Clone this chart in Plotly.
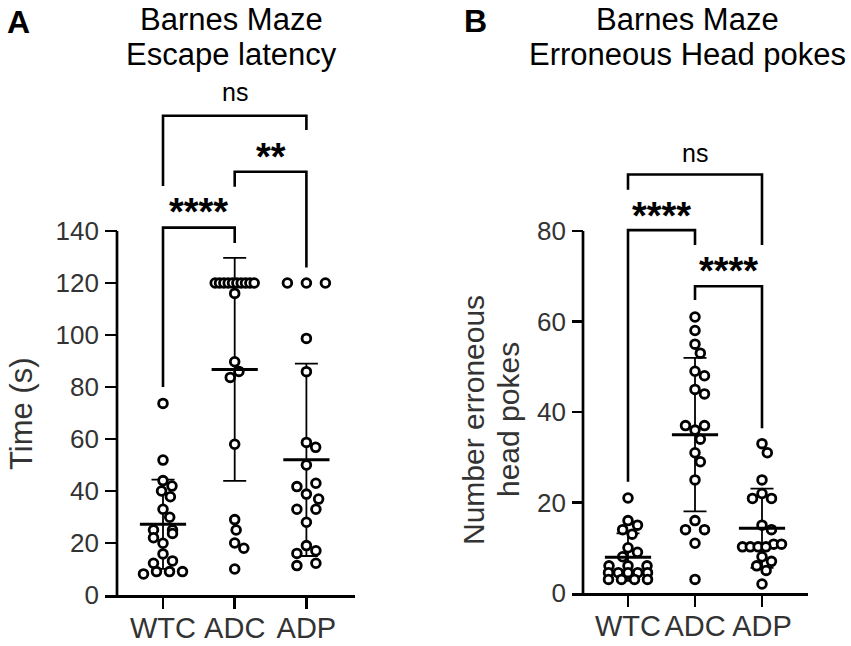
import math
import numpy as np
import plotly.graph_objects as go

# ---------------- data ----------------
categories = ["WTC", "ADC", "ADP"]

latency_wtc = [73.7, 51.9, 44, 41.9, 40, 37.8, 33, 29.9, 25, 25, 23.7, 22, 19.9, 15.8, 13.1, 12.2, 8.1, 9, 9, 9]
latency_adc = [120, 120, 120, 120, 120, 120, 120, 120, 120, 120, 116, 89.7, 86, 83.7, 58, 29, 25, 20, 18, 10]
latency_adp = [120, 120, 120, 98.7, 85.9, 58.7, 56.8, 50, 43, 41.7, 38.8, 36.9, 33, 33, 28, 19, 17, 16, 12.2, 11.3]

pokes_wtc = [21, 16, 15, 14, 13, 10, 9, 8, 6, 6, 6, 4.5, 4.5, 4.5, 4.5, 4.5, 3, 3, 3, 3]
pokes_adc = [61, 58, 55, 53, 49, 48, 45, 44, 37, 37, 36, 34, 31, 29, 25, 16, 14, 14, 11, 3]
pokes_adp = [33, 31, 25, 22, 20.9, 20.9, 15, 14, 10.8, 10.2, 10.2, 10.2, 10.2, 10.8, 8, 7, 6, 5, 2]

latency_ticks = [0, 20, 40, 60, 80, 100, 120, 140]
pokes_ticks = [0, 20, 40, 60, 80]

# ---------------- layout constants (pixels) ----------------
W, H = 851, 646
FONT = "Liberation Sans, Arial, sans-serif"
TXT = "#333333"


def py(y):
    return 1 - y / H


# panel A geometry
A_X0, A_DX = 163.0, 71.7           # px of category 0, px per category
A_Y0, A_DY = 595.0, 364.0 / 140.0  # px of value 0, px per unit
A_LEFT, A_RIGHT, A_TOP = 105.0, 355.0, 18.0
A_YLINE = 117.0
# panel B geometry
B_X0, B_DX = 628.0, 67.0
B_Y0, B_DY = 593.0, 362.0 / 80.0
B_LEFT, B_RIGHT, B_TOP = 572.0, 808.0, 18.0
B_YLINE = 583.0


def swarm(vals, ppu, D=10.5, row_tol=4.5, half=19.5):
    """beeswarm-like horizontal offsets in px"""
    n = len(vals)
    ys = [v * ppu for v in vals]
    offs = [None] * n
    idx = sorted(range(n), key=lambda i: ys[i])
    groups, cur = [], [idx[0]]
    for a, b in zip(idx, idx[1:]):
        if ys[b] - ys[cur[0]] <= row_tol:
            cur.append(b)
        else:
            groups.append(cur)
            cur = [b]
    groups.append(cur)
    placed = []
    for g in groups:
        k = len(g)
        if k >= 2:
            sp = min(19.0, 2 * half / (k - 1))
            for j, i in enumerate(g):
                offs[i] = (j - (k - 1) / 2) * sp
                placed.append((offs[i], ys[i]))
    rest = sorted([i for i in range(n) if offs[i] is None], key=lambda i: -ys[i])
    for i in rest:
        iv = []
        for xo, yo in placed:
            dy = abs(ys[i] - yo)
            if dy < D:
                w = math.sqrt(D * D - dy * dy)
                iv.append((xo - w, xo + w))
        cands = [0.0] + [a for a, b in iv] + [b for a, b in iv]
        cands.sort(key=lambda c: (abs(c), -c))
        for c in cands:
            if all(not (a + 1e-6 < c < b - 1e-6) for a, b in iv):
                offs[i] = c
                break
        placed.append((offs[i], ys[i]))
    return offs


fig = go.Figure()


def add_group(vals, ci, dx, dy, xa, ya):
    arr = np.array(vals, dtype=float)
    mean = arr.mean()
    sd = arr.std(ddof=1)
    offs = swarm(vals, dy)
    xs = [ci + o / dx for o in offs]
    # error bar (mean +- SD)
    fig.add_trace(go.Scatter(
        x=[ci], y=[mean], mode="markers", xaxis=xa, yaxis=ya,
        marker=dict(size=1, color="rgba(0,0,0,0)"),
        error_y=dict(type="data", array=[sd], visible=True, color="black",
                     thickness=1.8, width=11.5),
        showlegend=False, hoverinfo="skip", cliponaxis=False))
    # points
    fig.add_trace(go.Scatter(
        x=xs, y=vals, mode="markers", xaxis=xa, yaxis=ya,
        marker=dict(symbol="circle", size=8.7, color="white",
                    line=dict(color="black", width=2.8)),
        showlegend=False, cliponaxis=False))
    # mean line
    fig.add_trace(go.Scatter(
        x=[ci], y=[mean], mode="markers", xaxis=xa, yaxis=ya,
        marker=dict(symbol="line-ew", size=33, color="black",
                    line=dict(color="black", width=3)),
        showlegend=False, hoverinfo="skip", cliponaxis=False))


for ci, vals in enumerate([latency_wtc, latency_adc, latency_adp]):
    add_group(vals, ci, A_DX, A_DY, "x", "y")
for ci, vals in enumerate([pokes_wtc, pokes_adc, pokes_adp]):
    add_group(vals, ci, B_DX, B_DY, "x2", "y2")

shapes = []
annos = []


def bracket(xa, ya, x0, x1, yh, yl0, yl1):
    shapes.append(dict(type="path", xref=xa, yref=ya,
                       path=f"M {x0},{yl0} L {x0},{yh} L {x1},{yh} L {x1},{yl1}",
                       line=dict(color="black", width=2.6)))


def star(xa, ya, x, y, text, size=38, yshift=-3, bold=True):
    annos.append(dict(xref=xa, yref=ya, x=x, y=y, text=text, showarrow=False,
                      xanchor="center", yanchor="middle", yshift=yshift,
                      font=dict(family=FONT, size=size, color="black",
                                weight="bold" if bold else "normal")))


# panel A brackets
bracket("x", "y", 0, 1, 141.3, 80, 135.4)
bracket("x", "y", 1, 2, 162.8, 157, 126)
bracket("x", "y", 0, 2, 184.3, 157.3, 178.8)
star("x", "y", 0.5, 148.3, "****")
star("x", "y", 1.5, 169.6, "**")
star("x", "y", 1.0, 192, "ns", size=25, yshift=4, bold=False)
# panel B brackets
bracket("x2", "y2", 0, 2, 92.5, 89.1, 76.9)
bracket("x2", "y2", 0, 1, 80.2, 24.6, 76.9)
bracket("x2", "y2", 1, 2, 67.8, 64.75, 36.4)
star("x2", "y2", 1.0, 96.4, "ns", size=25, yshift=4, bold=False)
star("x2", "y2", 0.5, 83.9, "****")
star("x2", "y2", 1.5, 71.8, "****")

# y axis lines (drawn at the Prism-style offset)
shapes.append(dict(type="line", xref="x", yref="y",
                   x0=(A_YLINE - A_X0) / A_DX, x1=(A_YLINE - A_X0) / A_DX,
                   y0=0, y1=latency_ticks[-1], line=dict(color="black", width=2.7)))
shapes.append(dict(type="line", xref="x2", yref="y2",
                   x0=(B_YLINE - B_X0) / B_DX, x1=(B_YLINE - B_X0) / B_DX,
                   y0=0, y1=pokes_ticks[-1], line=dict(color="black", width=2.7)))


def ptext(x, y, text, size, bold=False, angle=0, color="black"):
    annos.append(dict(xref="paper", yref="paper", x=x / W, y=py(y), text=text,
                      showarrow=False, xanchor="center", yanchor="middle",
                      textangle=angle,
                      font=dict(family=FONT, size=size, color=color,
                                weight="bold" if bold else "normal")))


ptext(232, 19, "Barnes Maze", 31)
ptext(232, 55, "Escape latency", 31)
ptext(687, 19, "Barnes Maze", 31)
ptext(687.5, 55, "Erroneous Head pokes", 31)
ptext(18.5, 22, "A", 32, bold=True)
ptext(476, 21, "B", 32, bold=True)
ptext(21, 414, "Time (s)", 31, angle=-90, color=TXT)
ptext(473, 420, "Number erroneous", 30, angle=-90, color=TXT)
ptext(508, 420, "head pokes", 30, angle=-90, color=TXT)

xax_common = dict(showgrid=False, zeroline=False, showline=True, linecolor="black",
                  linewidth=2.7, ticks="outside", ticklen=11, tickwidth=2.7,
                  tickcolor="black", tickvals=[0, 1, 2], ticktext=categories,
                  tickangle=0, automargin=False, ticklabelstandoff=-6,
                  tickfont=dict(family=FONT, size=29, color=TXT), fixedrange=True)
yax_common = dict(showgrid=False, zeroline=False, showline=False, ticks="inside",
                  tickwidth=2.7, tickcolor="black", ticklabelstandoff=5,
                  automargin=False,
                  tickfont=dict(family=FONT, size=26, color=TXT), fixedrange=True)

fig.update_layout(
    width=W, height=H, autosize=False,
    margin=dict(l=0, r=0, t=0, b=0, autoexpand=False),
    paper_bgcolor="white", plot_bgcolor="white",
    showlegend=False,
    xaxis=dict(domain=[A_LEFT / W, A_RIGHT / W],
               range=[(A_LEFT - A_X0) / A_DX, (A_RIGHT - A_X0) / A_DX],
               anchor="y", **xax_common),
    yaxis=dict(domain=[py(A_Y0), py(A_TOP)], range=[0, (A_Y0 - A_TOP) / A_DY],
               anchor="x", tickvals=latency_ticks, ticklen=12, **yax_common),
    xaxis2=dict(domain=[B_LEFT / W, B_RIGHT / W],
                range=[(B_LEFT - B_X0) / B_DX, (B_RIGHT - B_X0) / B_DX],
                anchor="y2", **xax_common),
    yaxis2=dict(domain=[py(B_Y0), py(B_TOP)], range=[0, (B_Y0 - B_TOP) / B_DY],
                anchor="x2", tickvals=pokes_ticks, ticklen=11, **yax_common),
    shapes=shapes,
    annotations=annos,
)

fig.write_html(
    "out.html",
    config={"displayModeBar": False, "staticPlot": True},
    post_script="document.body.style.margin='0px';document.body.style.overflow='hidden';",
)
